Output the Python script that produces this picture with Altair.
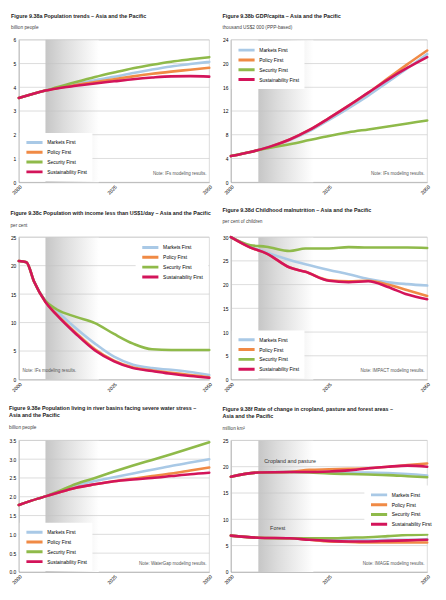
import altair as alt
import pandas as pd

SCENARIOS = ["Markets First", "Policy First", "Security First", "Sustainability First"]
COLORS = ["#a9c9e6", "#f08a45", "#8fba4a", "#d3145a"]
X_TICKS = [2000, 2025, 2050]

# Panel a: Population (billion people)
A_YEARS = [2000, 2005, 2007, 2010, 2015, 2020, 2025, 2030, 2035, 2040, 2045, 2050]
A_MARKETS = [3.55, 3.78, 3.86, 3.97, 4.15, 4.30, 4.44, 4.60, 4.75, 4.88, 4.98, 5.07]
A_POLICY = [3.55, 3.78, 3.86, 3.96, 4.10, 4.22, 4.34, 4.46, 4.57, 4.66, 4.74, 4.82]
A_SECURITY = [3.55, 3.78, 3.86, 4.00, 4.22, 4.43, 4.62, 4.80, 4.95, 5.08, 5.18, 5.27]
A_SUSTAIN = [3.55, 3.78, 3.86, 3.95, 4.06, 4.16, 4.25, 4.34, 4.41, 4.46, 4.47, 4.45]

# Panel b: GDP/capita (thousand US$2000 PPP)
B_YEARS = [2000, 2005, 2010, 2015, 2020, 2025, 2030, 2035, 2040, 2045, 2050]
B_MARKETS = [4.4, 5.1, 6.0, 7.1, 8.6, 10.5, 12.5, 14.6, 16.9, 19.2, 21.6]
B_POLICY = [4.4, 5.1, 6.0, 7.2, 8.8, 10.8, 12.9, 15.1, 17.5, 19.9, 22.2]
B_SECURITY = [4.4, 5.1, 5.8, 6.4, 7.1, 7.8, 8.4, 8.9, 9.4, 9.9, 10.4]
B_SUSTAIN = [4.4, 5.1, 6.0, 7.2, 8.8, 10.8, 12.9, 15.1, 17.3, 19.3, 21.1]

# Panel c: Population with income < US$1/day (per cent)
C_YEARS = [2000, 2002, 2004, 2007, 2010, 2015, 2020, 2025, 2030, 2035, 2040, 2045, 2050]
C_MARKETS = [20.8, 20.6, 17.2, 13.8, 12.0, 9.0, 6.3, 4.0, 2.6, 2.0, 1.7, 1.3, 0.8]
C_POLICY = [20.8, 20.6, 17.2, 13.6, 11.4, 8.2, 5.3, 3.3, 2.1, 1.6, 1.2, 0.8, 0.4]
C_SECURITY = [20.8, 20.6, 17.2, 13.8, 12.3, 11.0, 9.9, 8.0, 6.3, 5.3, 5.2, 5.2, 5.2]
C_SUSTAIN = [20.8, 20.6, 17.2, 13.6, 11.3, 8.0, 5.1, 3.2, 2.0, 1.5, 1.0, 0.6, 0.3]

# Panel d: Childhood malnutrition (per cent of children)
D_YEARS = [2000, 2005, 2009, 2015, 2019, 2025, 2030, 2035, 2040, 2045, 2050]
D_MARKETS = [30.0, 28.0, 26.8, 25.2, 24.3, 23.1, 22.2, 21.2, 20.5, 20.1, 19.8]
D_POLICY = [30.0, 27.8, 26.6, 23.6, 22.7, 20.9, 20.7, 20.8, 20.0, 18.8, 17.6]
D_SECURITY = [30.0, 28.3, 28.0, 27.1, 27.6, 27.6, 27.9, 27.8, 27.8, 27.8, 27.7]
D_SUSTAIN = [30.0, 27.8, 26.6, 23.6, 22.7, 20.8, 20.5, 20.7, 19.5, 17.9, 16.9]

# Panel e: Population in river basins under severe water stress (billion)
E_YEARS = [2000, 2005, 2007, 2010, 2015, 2020, 2025, 2030, 2035, 2040, 2045, 2050]
E_MARKETS = [1.78, 1.95, 2.01, 2.12, 2.30, 2.42, 2.52, 2.62, 2.72, 2.82, 2.91, 3.00]
E_POLICY = [1.78, 1.95, 2.01, 2.10, 2.24, 2.33, 2.41, 2.48, 2.55, 2.62, 2.70, 2.78]
E_SECURITY = [1.78, 1.95, 2.01, 2.13, 2.34, 2.50, 2.67, 2.83, 2.98, 3.13, 3.29, 3.45]
E_SUSTAIN = [1.78, 1.95, 2.01, 2.10, 2.24, 2.33, 2.41, 2.46, 2.50, 2.55, 2.60, 2.64]

# Panel f: Cropland/pasture and forest areas (million km2)
F_YEARS = [2000, 2007, 2015, 2020, 2025, 2030, 2035, 2040, 2045, 2050]
F_CROP_MARKETS = [18.1, 18.9, 19.0, 19.0, 18.9, 18.9, 18.9, 18.8, 18.6, 18.3]
F_CROP_POLICY = [18.1, 18.9, 19.0, 19.4, 19.5, 19.6, 19.7, 20.0, 20.3, 20.6]
F_CROP_SECURITY = [18.1, 18.9, 19.0, 18.9, 18.7, 18.6, 18.5, 18.4, 18.2, 18.0]
F_CROP_SUSTAIN = [18.1, 18.9, 19.0, 19.0, 19.1, 19.3, 19.7, 20.0, 20.2, 20.0]
F_FOR_MARKETS = [6.9, 6.5, 6.4, 6.2, 6.0, 6.0, 6.0, 6.1, 6.1, 6.2]
F_FOR_POLICY = [6.9, 6.5, 6.4, 6.1, 5.8, 5.7, 5.6, 5.6, 5.6, 5.6]
F_FOR_SECURITY = [6.9, 6.5, 6.4, 6.4, 6.4, 6.5, 6.6, 6.8, 7.0, 7.1]
F_FOR_SUSTAIN = [6.9, 6.5, 6.4, 6.1, 5.9, 5.8, 5.8, 5.9, 6.0, 6.1]

FONT = "Liberation Sans, Arial, sans-serif"

SHADE = alt.Gradient(
    gradient="linear",
    stops=[
        alt.GradientStop(color="#c6c6c6", offset=0),
        alt.GradientStop(color="#dcdcdc", offset=0.35),
        alt.GradientStop(color="#ffffff", offset=1),
    ],
    x1=0, x2=1, y1=0, y2=0,
)


def long_df(years, series, group=""):
    rows = []
    for s, vals in zip(SCENARIOS, series):
        for yr, v in zip(years, vals):
            rows.append({"year": yr, "value": v, "scenario": s, "group": group})
    return pd.DataFrame(rows)


def panel(title, unit, df, ymax, ystep, width, height, legend, note,
          note_left=False, extra_labels=None):
    ticks = [round(i * ystep, 3) for i in range(int(round(ymax / ystep)) + 1)]
    xscale = alt.Scale(domain=[2000, 2050], nice=False, zero=False)
    yscale = alt.Scale(domain=[0, ymax], nice=False)
    xaxis = alt.Axis(values=X_TICKS, format="d", labelAngle=315, grid=False,
                     ticks=False, title=None, labelFontSize=5, labelFont=FONT,
                     labelPadding=2, domainColor="#999999", domainWidth=0.6)
    yaxis = alt.Axis(values=ticks, grid=False, ticks=False, title=None,
                     labelFontSize=5, labelFont=FONT, labelPadding=3,
                     labelOverlap=False,
                     domainColor="#999999", domainWidth=0.6)

    def X(f):
        return alt.X(f, scale=xscale, axis=xaxis)

    def Y(f):
        return alt.Y(f, scale=yscale, axis=yaxis)

    shade = alt.Chart(pd.DataFrame({"x": [2007], "x2": [2021], "y": [0], "y2": [ymax]})).mark_rect(
        fill=SHADE
    ).encode(x=X("x:Q"), x2="x2:Q", y=Y("y:Q"), y2="y2:Q")

    grid = alt.Chart(pd.DataFrame({"t": ticks[1:]})).mark_rule(
        color="#c4c4c4", strokeWidth=0.6
    ).encode(y=Y("t:Q"))

    lines = alt.Chart(df).mark_line(
        strokeWidth=2.6, interpolate="monotone", strokeCap="round"
    ).encode(
        x=X("year:Q"),
        y=Y("value:Q"),
        color=alt.Color(
            "scenario:N",
            scale=alt.Scale(domain=SCENARIOS, range=COLORS),
            legend=alt.Legend(
                title=None, symbolType="M-1,0H5", symbolStrokeWidth=3,
                symbolSize=30, labelFontSize=5, labelFont=FONT,
                fillColor="white", padding=5, rowPadding=1, labelOffset=14,
                clipHeight=9,
                **legend,
            ),
        ),
        detail="group:N",
    )

    nx = 2001 if note_left else 2049.3
    note_layer = alt.Chart(pd.DataFrame({"x": [nx], "y": [ymax * 0.045], "t": [note]})).mark_text(
        align="left" if note_left else "right", baseline="bottom",
        fontSize=4.6, font=FONT, color="#555555"
    ).encode(x=X("x:Q"), y=Y("y:Q"), text="t:N")

    layers = [shade, grid, lines, note_layer]
    if extra_labels is not None:
        layers.append(
            alt.Chart(extra_labels).mark_text(
                align="left", baseline="bottom", fontSize=5.5, font=FONT, color="#333333"
            ).encode(x=X("x:Q"), y=Y("y:Q"), text="t:N")
        )

    return alt.layer(*layers).properties(
        width=width, height=height,
        title=alt.TitleParams(
            text=title, subtitle=unit, anchor="start", font=FONT, fontSize=5.5,
            fontWeight="bold", color="#222222", subtitleFont=FONT,
            subtitleFontSize=4.8, subtitleColor="#444444", offset=8,
            subtitlePadding=6, lineHeight=7.5,
        ),
    )


LW, RW = 194, 200

pa = panel(["Figure 9.38a Population trends – Asia and the Pacific"], "billion people",
           long_df(A_YEARS, [A_MARKETS, A_POLICY, A_SECURITY, A_SUSTAIN]),
           6, 1, LW, 145, {"orient": "bottom-left", "offset": 1},
           "Note: IFs modeling results.")
pb = panel(["Figure 9.38b GDP/capita – Asia and the Pacific"], "thousand US$2 000 (PPP-based)",
           long_df(B_YEARS, [B_MARKETS, B_POLICY, B_SECURITY, B_SUSTAIN]),
           24, 4, RW, 145, {"orient": "top-left", "offset": 1},
           "Note: IFs modeling results.")
pc = panel(["Figure 9.38c Population with income less than US$1/day – Asia and the Pacific"], "per cent",
           long_df(C_YEARS, [C_MARKETS, C_POLICY, C_SECURITY, C_SUSTAIN]),
           25, 5, LW, 145, {"orient": "top-right", "offset": 1},
           "Note: IFs modeling results.", note_left=True)
pd_ = panel(["Figure 9.38d Childhood malnutrition – Asia and the Pacific"], "per cent of children",
            long_df(D_YEARS, [D_MARKETS, D_POLICY, D_SECURITY, D_SUSTAIN]),
            30, 5, RW, 145, {"orient": "bottom-left", "offset": 1},
            "Note: IMPACT modeling results.")
pe = panel(["Figure 9.38e Population living in river basins facing severe water stress –",
            "Asia and the Pacific"], "billion people",
           long_df(E_YEARS, [E_MARKETS, E_POLICY, E_SECURITY, E_SUSTAIN]),
           3.5, 0.5, LW, 134, {"orient": "bottom-left", "offset": 1},
           "Note: WaterGap modeling results.")
f_df = pd.concat([
    long_df(F_YEARS, [F_CROP_MARKETS, F_CROP_POLICY, F_CROP_SECURITY, F_CROP_SUSTAIN], "crop"),
    long_df(F_YEARS, [F_FOR_MARKETS, F_FOR_POLICY, F_FOR_SECURITY, F_FOR_SUSTAIN], "forest"),
])
F_LABELS = pd.DataFrame({"x": [2008.5, 2010.0], "y": [20.6, 7.8], "t": ["Cropland and pasture", "Forest"]})
pf = panel(["Figure 9.38f Rate of change in cropland, pasture and forest areas –",
            "Asia and the Pacific"], "million km²",
           f_df, 25, 5, RW, 134, {"orient": "none", "legendX": 136, "legendY": 46},
           "Note: IMAGE modeling results.", extra_labels=F_LABELS)

row1 = alt.hconcat(pa, pb, spacing=22, bounds="flush").resolve_scale(color="independent")
row2 = alt.hconcat(pc, pd_, spacing=22, bounds="flush").resolve_scale(color="independent")
row3 = alt.hconcat(pe, pf, spacing=22, bounds="flush").resolve_scale(color="independent")

chart = alt.vconcat(row1, row2, row3, spacing=12).resolve_scale(
    color="independent"
).configure_view(stroke="#c4c4c4", strokeWidth=0.6).properties(padding=0)

chart.save("out.html", embed_options={"renderer": "svg", "actions": False})
